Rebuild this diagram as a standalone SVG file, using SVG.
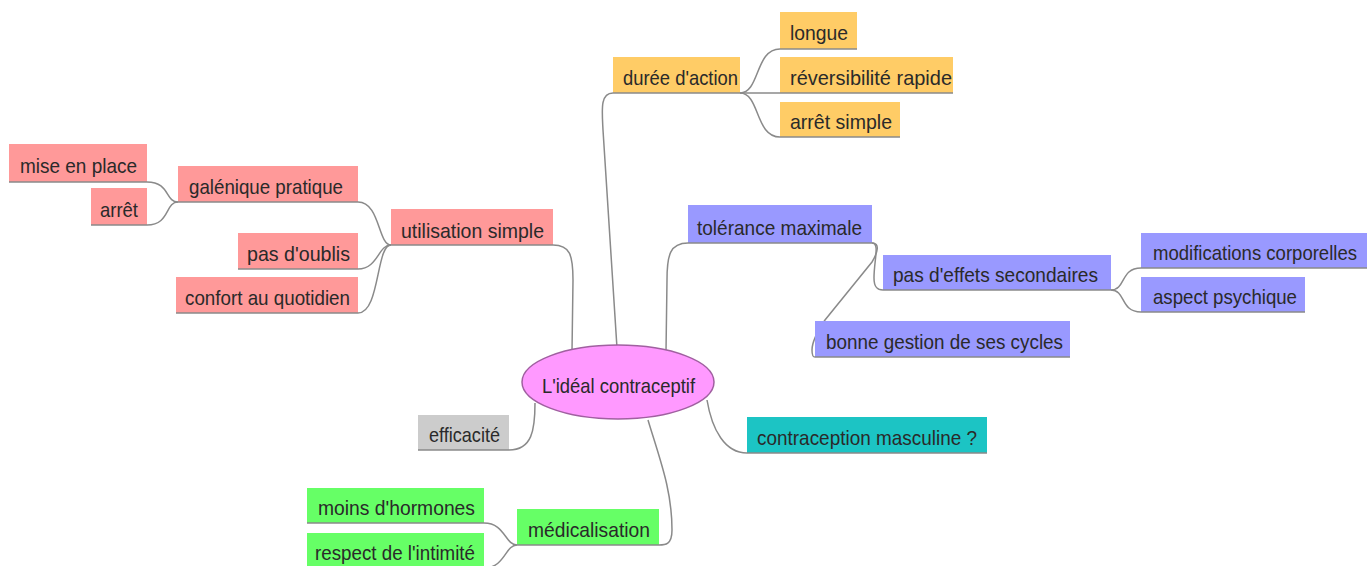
<svg xmlns="http://www.w3.org/2000/svg" width="1369" height="566" viewBox="0 0 1369 566">
<style>
text{font-family:"Liberation Sans",Arial,sans-serif;font-size:21px;fill:#2a2a2a}
.ul{stroke:#8a8a8a;stroke-width:1.5}
.r{fill:#ff9999}.o{fill:#ffcc66}.b{fill:#9999ff}.g{fill:#66ff66}.c{fill:#1cc4c4}.k{fill:#cccccc}
#connectors path{fill:none;stroke:#8a8a8a;stroke-width:1.5}
</style>
<rect width="1369" height="566" fill="#ffffff"/>
<g id="connectors">
<path d="M553,245 C570,245 573,255 573,280 L572,352"/>
<path d="M613,93 C600,93 602,110 603,130 L617,348"/>
<path d="M688,243 C670,243 667,255 667,280 L666,352"/>
<path d="M535,403 C535,430 532,450 509,450"/>
<path d="M707,400 C712,430 725,453 747,453"/>
<path d="M648,420 C660,460 672,490 672,530 C672,545 665,545 659,545"/>
<path d="M358,202 C380,202 378,245 391,245"/>
<path d="M358,269 C378,269 378,245 391,245"/>
<path d="M358,313 C380,313 376,245 391,245"/>
<path d="M147,182 C170,182 165,202 178,202"/>
<path d="M147,225 C170,225 165,202 178,202"/>
<path d="M740,93 C760,93 755,49 780,49"/>
<path d="M740,93 L780,93"/>
<path d="M740,93 C760,93 755,137 780,137"/>
<path d="M872,243 C880,243 874,260 874,278 C874,288 878,290 883,290"/>
<path d="M872,243 C880,243 878,252 872,262 L825,320 C815,335 812,345 812,350 C812,356 813,357 815,357"/>
<path d="M1111,290 C1126,290 1120,268 1141,268"/>
<path d="M1111,290 C1126,290 1120,312 1141,312"/>
<path d="M484,523 C505,523 505,545 517,545"/>
<path d="M484,568 C505,568 505,545 517,545"/>
</g>
<g id="root">
<ellipse cx="618" cy="382" rx="96" ry="37" fill="#ff99ff" stroke="#a060a0" stroke-width="1.5"/>
<text x="542" y="393" textLength="153" lengthAdjust="spacingAndGlyphs">L'idéal contraceptif</text>
</g>
<g id="n-utilisation">
<rect class="r" x="391" y="209" width="162" height="36"/><line class="ul" x1="391" y1="245" x2="553" y2="245"/>
<text x="401" y="237.5" textLength="143" lengthAdjust="spacingAndGlyphs">utilisation simple</text>
</g>
<g id="n-galenique">
<rect class="r" x="178" y="166" width="180" height="36"/><line class="ul" x1="178" y1="202" x2="358" y2="202"/>
<text x="189" y="194" textLength="154" lengthAdjust="spacingAndGlyphs">galénique pratique</text>
</g>
<g id="n-mise">
<rect class="r" x="9" y="144" width="138" height="38"/><line class="ul" x1="9" y1="182" x2="147" y2="182"/>
<text x="20" y="173" textLength="117" lengthAdjust="spacingAndGlyphs">mise en place</text>
</g>
<g id="n-arret">
<rect class="r" x="91" y="188" width="56" height="37"/><line class="ul" x1="91" y1="225" x2="147" y2="225"/>
<text x="100" y="216.5" textLength="38" lengthAdjust="spacingAndGlyphs">arrêt</text>
</g>
<g id="n-oublis">
<rect class="r" x="238" y="233" width="120" height="36"/><line class="ul" x1="238" y1="269" x2="358" y2="269"/>
<text x="247" y="260.5" textLength="103" lengthAdjust="spacingAndGlyphs">pas d'oublis</text>
</g>
<g id="n-confort">
<rect class="r" x="176" y="277" width="182" height="36"/><line class="ul" x1="176" y1="313" x2="358" y2="313"/>
<text x="185" y="304.5" textLength="165" lengthAdjust="spacingAndGlyphs">confort au quotidien</text>
</g>
<g id="n-duree">
<rect class="o" x="613" y="57" width="127" height="36"/><line class="ul" x1="613" y1="93" x2="740" y2="93"/>
<text x="623" y="84.5" textLength="115" lengthAdjust="spacingAndGlyphs">durée d'action</text>
</g>
<g id="n-longue">
<rect class="o" x="780" y="12" width="77" height="37"/><line class="ul" x1="780" y1="49" x2="857" y2="49"/>
<text x="790" y="39.5" textLength="58" lengthAdjust="spacingAndGlyphs">longue</text>
</g>
<g id="n-reversibilite">
<rect class="o" x="780" y="57" width="173" height="36"/><line class="ul" x1="780" y1="93" x2="953" y2="93"/>
<text x="790" y="84.5" textLength="162" lengthAdjust="spacingAndGlyphs">réversibilité rapide</text>
</g>
<g id="n-arretsimple">
<rect class="o" x="780" y="102" width="120" height="35"/><line class="ul" x1="780" y1="137" x2="900" y2="137"/>
<text x="790" y="128.5" textLength="102" lengthAdjust="spacingAndGlyphs">arrêt simple</text>
</g>
<g id="n-tolerance">
<rect class="b" x="688" y="205" width="184" height="38"/><line class="ul" x1="688" y1="243" x2="872" y2="243"/>
<text x="697" y="234.5" textLength="165" lengthAdjust="spacingAndGlyphs">tolérance maximale</text>
</g>
<g id="n-effets">
<rect class="b" x="883" y="255" width="228" height="35"/><line class="ul" x1="883" y1="290" x2="1111" y2="290"/>
<text x="893" y="282" textLength="205" lengthAdjust="spacingAndGlyphs">pas d'effets secondaires</text>
</g>
<g id="n-cycles">
<rect class="b" x="815" y="321" width="255" height="36"/><line class="ul" x1="815" y1="357" x2="1070" y2="357"/>
<text x="826" y="349" textLength="237" lengthAdjust="spacingAndGlyphs">bonne gestion de ses cycles</text>
</g>
<g id="n-modifications">
<rect class="b" x="1141" y="233" width="226" height="35"/><line class="ul" x1="1141" y1="268" x2="1367" y2="268"/>
<text x="1153" y="259.5" textLength="204" lengthAdjust="spacingAndGlyphs">modifications corporelles</text>
</g>
<g id="n-psychique">
<rect class="b" x="1141" y="277" width="164" height="35"/><line class="ul" x1="1141" y1="312" x2="1305" y2="312"/>
<text x="1153" y="303.5" textLength="144" lengthAdjust="spacingAndGlyphs">aspect psychique</text>
</g>
<g id="n-efficacite">
<rect class="k" x="418" y="415" width="91" height="35"/><line class="ul" x1="418" y1="450" x2="509" y2="450"/>
<text x="429" y="442" textLength="71" lengthAdjust="spacingAndGlyphs">efficacité</text>
</g>
<g id="n-masculine">
<rect class="c" x="747" y="417" width="240" height="36"/><line class="ul" x1="747" y1="453" x2="987" y2="453"/>
<text x="757" y="444.5" textLength="220" lengthAdjust="spacingAndGlyphs">contraception masculine ?</text>
</g>
<g id="n-medicalisation">
<rect class="g" x="517" y="509" width="142" height="36"/><line class="ul" x1="517" y1="545" x2="659" y2="545"/>
<text x="528" y="537" textLength="122" lengthAdjust="spacingAndGlyphs">médicalisation</text>
</g>
<g id="n-hormones">
<rect class="g" x="307" y="488" width="177" height="35"/><line class="ul" x1="307" y1="523" x2="484" y2="523"/>
<text x="318" y="515" textLength="157" lengthAdjust="spacingAndGlyphs">moins d'hormones</text>
</g>
<g id="n-intimite">
<rect class="g" x="307" y="533" width="177" height="35"/><line class="ul" x1="307" y1="568" x2="484" y2="568"/>
<text x="315" y="559.5" textLength="160" lengthAdjust="spacingAndGlyphs">respect de l'intimité</text>
</g>
</svg>
